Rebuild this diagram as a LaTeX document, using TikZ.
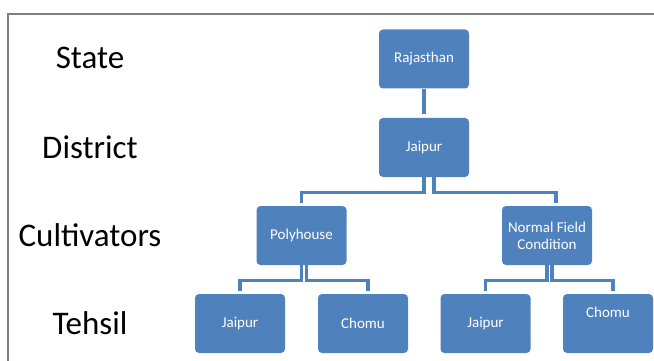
\documentclass[tikz,border=0pt]{standalone}
\usepackage{fontspec}
\setmainfont{Carlito}
\definecolor{boxblue}{HTML}{4F81BD}
\definecolor{framegray}{HTML}{7F7F7F}
\begin{document}
\begin{tikzpicture}[x=1pt,y=-1pt,
  box/.style={fill=boxblue, draw=none, rounded corners=4pt, minimum width=90pt, minimum height=59pt,
    inner sep=2pt, text=white, font=\fontsize{15}{17}\selectfont, align=center},
  lev/.style={font=\fontsize{33}{36}\selectfont, text=black},
  conn/.style={draw=boxblue, line width=3.5pt, shorten >=3pt}]
\useasboundingbox (0,0) rectangle (654,361);
\draw[framegray, line width=1.5pt] (8,362) -- (8,14) -- (655,14);
% level labels
\node[lev] (lstate) at (90,58) {State};
\node[lev] (ldist) at (90,147) {District};
\node[lev] (lcult) at (90,235) {Cultivators};
\node[lev] (lteh) at (90,323) {Tehsil};
% boxes
\node[box] (raj) at (424,59) {Rajasthan};
\node[box] (jai) at (424,147.5) {Jaipur};
\node[box] (poly) at (301.5,235.5) {Polyhouse};
\node[box] (nfc) at (547,235.5) {Normal Field\\Condition};
\node[box] (j1) at (240,323.5) {Jaipur};
\node[box] (c1) at (363,323.5) {Chomu};
\node[box] (j2) at (485.5,323.5) {Jaipur};
\node[box] (c2) at (608,323.5) {\raisebox{22pt}{Chomu}};
% connectors
\draw[conn, shorten >=4pt] (raj.south) -- (jai.north);
\draw[conn] ([xshift=0pt]jai.south) -- ++(0,15.5) -| (poly.north);
\draw[conn] ([xshift=10pt]jai.south) -- ++(0,15.5) -| ([xshift=9pt]nfc.north);
\draw[conn] ([xshift=0pt]poly.south) -- ++(0,15.5) -| (j1.north);
\draw[conn] ([xshift=5pt]poly.south) -- ++(0,15.5) -| ([xshift=5pt]c1.north);
\draw[conn] ([xshift=0pt]nfc.south) -- ++(0,15.5) -| (j2.north);
\draw[conn] ([xshift=5pt]nfc.south) -- ++(0,15.5) -| ([xshift=5pt]c2.north);
\end{tikzpicture}
\end{document}
